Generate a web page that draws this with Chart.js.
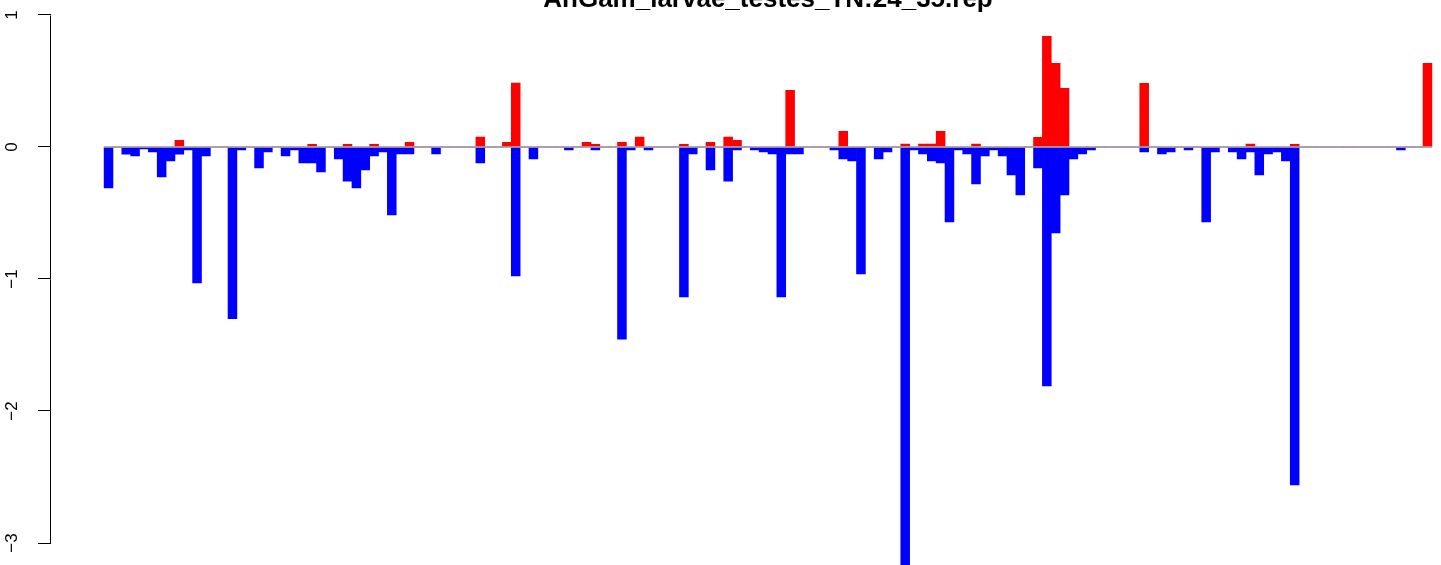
<!DOCTYPE html>
<html>
<head>
<meta charset="utf-8">
<script src="https://cdn.jsdelivr.net/npm/chart.js@4.4.1/dist/chart.umd.min.js"></script>
<style>
  html, body { margin: 0; padding: 0; background: #ffffff; width: 1441px; height: 565px; overflow: hidden; }
  #wrap { position: absolute; left: 0; top: -20px; width: 1485px; height: 600px; }
  canvas { display: block; }
</style>
</head>
<body>
<div id="wrap"><canvas id="c" width="1485" height="600"></canvas></div>
<script>
// ---------------- data ----------------
const TITLE = "AnGam_larvae_testes_TN:24_35.rep";

// positive (red) values per bar, 150 bars
const upValues = [
  0, 0, 0, 0, 0, 0, 0, 0, 0.05, 0,
  0, 0, 0, 0, 0, 0, 0, 0, 0, 0,
  0, 0, 0, 0.02, 0, 0, 0, 0.02, 0, 0,
  0.02, 0, 0, 0, 0.035, 0, 0, 0, 0, 0,
  0, 0, 0.076, 0, 0, 0.035, 0.485, 0, 0, 0,
  0, 0, 0, 0, 0.035, 0.02, 0, 0, 0.035, 0,
  0.076, 0, 0, 0, 0, 0.02, 0, 0, 0.035, 0,
  0.076, 0.05, 0, 0, 0, 0, 0, 0.43, 0, 0,
  0, 0, 0, 0.119, 0, 0, 0, 0, 0, 0,
  0.023, 0, 0.023, 0.023, 0.119, 0, 0, 0, 0.023, 0,
  0, 0, 0, 0, 0, 0.073, 0.838, 0.634, 0.444, 0,
  0, 0, 0, 0, 0, 0, 0, 0.482, 0, 0,
  0, 0, 0, 0, 0, 0, 0, 0, 0, 0.023,
  0, 0, 0, 0, 0.02, 0, 0, 0, 0, 0,
  0, 0, 0, 0, 0, 0, 0, 0, 0, 0.634
];

// negative (blue) values per bar, 150 bars
const downValues = [
  -0.31, 0, -0.055, -0.068, -0.015, -0.038, -0.227, -0.106, -0.055, -0.023,
  -1.03, -0.068, 0, 0, -1.30, -0.023, 0, -0.159, -0.038, 0,
  -0.068, -0.023, -0.121, -0.121, -0.189, 0, -0.091, -0.258, -0.31, -0.174,
  -0.068, -0.038, -0.515, -0.053, -0.053, 0, 0, -0.053, 0, 0,
  0, 0, -0.121, 0, 0, 0, -0.977, 0, -0.091, 0,
  0, 0, -0.023, 0, 0, -0.023, 0, 0, -1.455, -0.023,
  0, -0.023, 0, 0, 0, -1.136, -0.053, 0, -0.174, 0,
  -0.258, -0.023, 0, -0.023, -0.038, -0.053, -1.136, -0.053, -0.053, 0,
  0, 0, -0.023, -0.091, -0.106, -0.962, 0, -0.091, -0.038, 0,
  -3.17, -0.023, -0.053, -0.106, -0.121, -0.568, -0.023, -0.053, -0.28, -0.068,
  -0.023, -0.068, -0.212, -0.364, 0, -0.159, -1.81, -0.65, -0.364, -0.091,
  -0.053, -0.023, 0, 0, 0, 0, 0, -0.038, 0, -0.053,
  -0.038, 0, -0.023, 0, -0.568, -0.038, 0, -0.038, -0.091, -0.038,
  -0.212, -0.053, -0.038, -0.106, -2.56, 0, 0, 0, 0, 0,
  0, 0, 0, 0, 0, 0, -0.023, 0, 0, 0
];

// bar categories (positions 1..N)
const categories = upValues.map((_, i) => i + 1);

// y axis tick labels
const yTicks = [1, 0, -1, -2, -3];
const yTickLabels = ["1", "0", "\u22121", "\u22122", "\u22123"];

// axis limits (value range of the plotting area)
const Y_MAX = 1.0189;
const Y_MIN = -3.2803;
const X_PAD = 6; // R's 4% extension on each side of the bar range

const UP_COLOR = "#FF0000";
const DOWN_COLOR = "#0000FF";
const ZERO_COLOR = "#A3A3A3";
const FONT_FAMILY = '"Liberation Sans", Arial, Helvetica, sans-serif';

// --------------- plugin: R-style axis ---------------
const rAxis = {
  id: "rAxis",
  afterDatasetsDraw(chart) {
    const { ctx, scales: { x, y } } = chart;
    const y0 = y.getPixelForValue(0);
    ctx.save();
    ctx.strokeStyle = ZERO_COLOR;
    ctx.lineWidth = 1.4;
    ctx.beginPath();
    ctx.moveTo(x.getPixelForValue(0), y0);
    ctx.lineTo(x.getPixelForValue(categories.length), y0);
    ctx.stroke();
    ctx.restore();
  },
  afterDraw(chart) {
    const { ctx, scales: { y } } = chart;
    const ax = Math.round(chart.chartArea.left) - 0.5;
    ctx.save();
    ctx.strokeStyle = "#000";
    ctx.lineWidth = 1;
    ctx.beginPath();
    ctx.moveTo(ax, Math.round(y.getPixelForValue(Math.max(...yTicks))) + 0.5);
    ctx.lineTo(ax, Math.round(y.getPixelForValue(Math.min(...yTicks))) + 0.5);
    ctx.stroke();
    ctx.fillStyle = "#000";
    ctx.font = "17px " + FONT_FAMILY;
    ctx.textAlign = "center";
    ctx.textBaseline = "middle";
    yTicks.forEach((v, k) => {
      ctx.save();
      ctx.translate(12, y.getPixelForValue(v));
      ctx.rotate(-Math.PI / 2);
      ctx.fillText(yTickLabels[k], 0, 0);
      ctx.restore();
    });
    ctx.restore();
  }
};

new Chart(document.getElementById("c"), {
  type: "bar",
  data: {
    datasets: [
      {
        label: "up",
        data: upValues.map((v, i) => ({ x: categories[i] - 0.5, y: v })),
        backgroundColor: UP_COLOR,
        borderWidth: 0,
        grouped: false,
        barPercentage: 1,
        categoryPercentage: 1
      },
      {
        label: "down",
        data: downValues.map((v, i) => ({ x: categories[i] - 0.5, y: v })),
        backgroundColor: DOWN_COLOR,
        borderWidth: 0,
        grouped: false,
        barPercentage: 1,
        categoryPercentage: 1
      }
    ]
  },
  options: {
    responsive: false,
    animation: false,
    devicePixelRatio: 1,
    layout: { padding: { top: 6.5, left: 0, right: 0, bottom: 0 } },
    plugins: {
      legend: { display: false },
      tooltip: { enabled: false },
      title: {
        display: true,
        text: TITLE,
        fullSize: false,
        color: "#000",
        font: { family: FONT_FAMILY, size: 26, weight: "bold", lineHeight: 1 },
        padding: { top: 0, bottom: 0 }
      }
    },
    scales: {
      x: {
        type: "linear",
        offset: false,
        min: -X_PAD,
        max: categories.length + X_PAD,
        display: false
      },
      y: {
        type: "linear",
        position: "left",
        offset: false,
        min: Y_MIN,
        max: Y_MAX,
        afterBuildTicks: (s) => { s.ticks = yTicks.map(v => ({ value: v })); },
        afterFit: (s) => { s.width = 51; },
        border: { display: false },
        grid: { display: true, drawOnChartArea: false, drawTicks: true, tickLength: 13, color: "#000", lineWidth: 1 },
        ticks: { display: false }
      }
    }
  },
  plugins: [rAxis]
});
</script>
</body>
</html>
